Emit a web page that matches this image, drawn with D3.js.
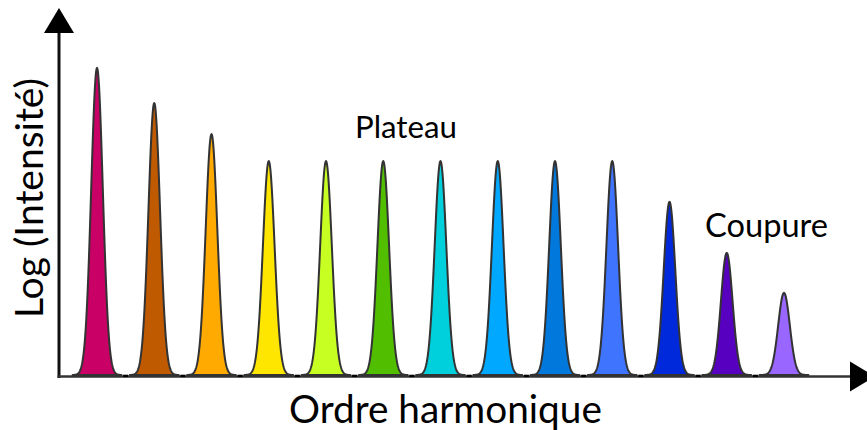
<!DOCTYPE html>
<html>
<head>
<meta charset="utf-8">
<script src="https://cdn.jsdelivr.net/npm/d3@7"></script>
<style>
  html, body { margin: 0; padding: 0; background: #fff; }
  svg { display: block; }
  text { font-family: Lato, "Open Sans", sans-serif; fill: #000; }
</style>
</head>
<body>
<svg id="chart" width="867" height="430"></svg>
<script>
// ---- data ----
const orders = [11, 13, 15, 17, 19, 21, 23, 25, 27, 29, 31, 33, 35];
const logIntensity = [0.830, 0.735, 0.651, 0.578, 0.578, 0.578, 0.578, 0.578, 0.578, 0.578, 0.468, 0.330, 0.222];
const colors = ["#C90066", "#BF5A00", "#FFAA00", "#FFE600", "#C8FF22", "#52BE00", "#00CFDC",
                "#00A8FF", "#0078DC", "#3F74FF", "#0029DB", "#5700C0", "#9966FF"];
const tickOrders = [12, 14, 16, 18, 20, 22, 24, 26, 28, 30, 32, 34];
const peakWidth = 0.203; // gaussian sigma, in harmonic orders
const labels = { x: "Ordre harmonique", y: "Log (Intensité)", plateau: "Plateau", cutoff: "Coupure" };

// ---- layout ----
const svg = d3.select("#chart");
const x = d3.scaleLinear().domain([11, 35]).range([97, 784]);
const y = d3.scaleLinear().domain([0, 1]).range([375, 5]);
const axisY = 376.5, axisX = 59;

// ---- peaks ----
const line = d3.line().x(d => x(d[0])).y(d => y(d[1])).curve(d3.curveLinear);
orders.forEach((o, i) => {
  const h = logIntensity[i];
  const pts = [];
  const n = 120;
  for (let k = 0; k <= n; k++) {
    const t = -4.2 + 8.4 * k / n;
    pts.push([o + t * peakWidth, h * Math.exp(-0.5 * t * t)]);
  }
  svg.append("path")
    .attr("d", line(pts) + "Z")
    .attr("fill", colors[i])
    .attr("stroke", "#333")
    .attr("stroke-width", 2)
    .attr("stroke-linejoin", "round");
});

// ---- axes ----
const ax = svg.append("g");
ax.append("line").attr("x1", axisX).attr("x2", axisX).attr("y1", 30).attr("y2", axisY + 1.5)
  .attr("stroke", "#111").attr("stroke-width", 3);
ax.append("line").attr("x1", axisX - 1.5).attr("x2", 852).attr("y1", axisY).attr("y2", axisY)
  .attr("stroke", "#333").attr("stroke-width", 2.5);
// small ticks between peaks
ax.selectAll("rect.tick").data(tickOrders).enter().append("rect")
  .attr("x", d => x(d) - 2.5).attr("y", axisY - 1.8).attr("width", 5).attr("height", 2.4)
  .attr("fill", "#000");
// arrowheads
ax.append("path").attr("d", `M${axisX},8 L${axisX + 15},33 L${axisX - 15},33 Z`).attr("fill", "#000");
ax.append("path").attr("d", `M875,${axisY} L850,${axisY - 15} L850,${axisY + 15} Z`).attr("fill", "#000");

// ---- text ----
function fit(t, w) {
  const cur = +t.attr("font-size");
  const len = t.node().getComputedTextLength();
  t.attr("font-size", (cur * w / len).toFixed(2));
}
const xl = svg.append("text").attr("x", 289).attr("y", 423).attr("font-size", 38).text(labels.x);
fit(xl, 313);
const yl = svg.append("text").attr("transform", "translate(43,318) rotate(-90)").attr("font-size", 38).text(labels.y);
fit(yl, 240);
const pl = svg.append("text").attr("x", 355).attr("y", 138).attr("font-size", 28).text(labels.plateau);
fit(pl, 102);
const cl = svg.append("text").attr("x", 705).attr("y", 237).attr("font-size", 28).text(labels.cutoff);
fit(cl, 123);
</script>
</body>
</html>
